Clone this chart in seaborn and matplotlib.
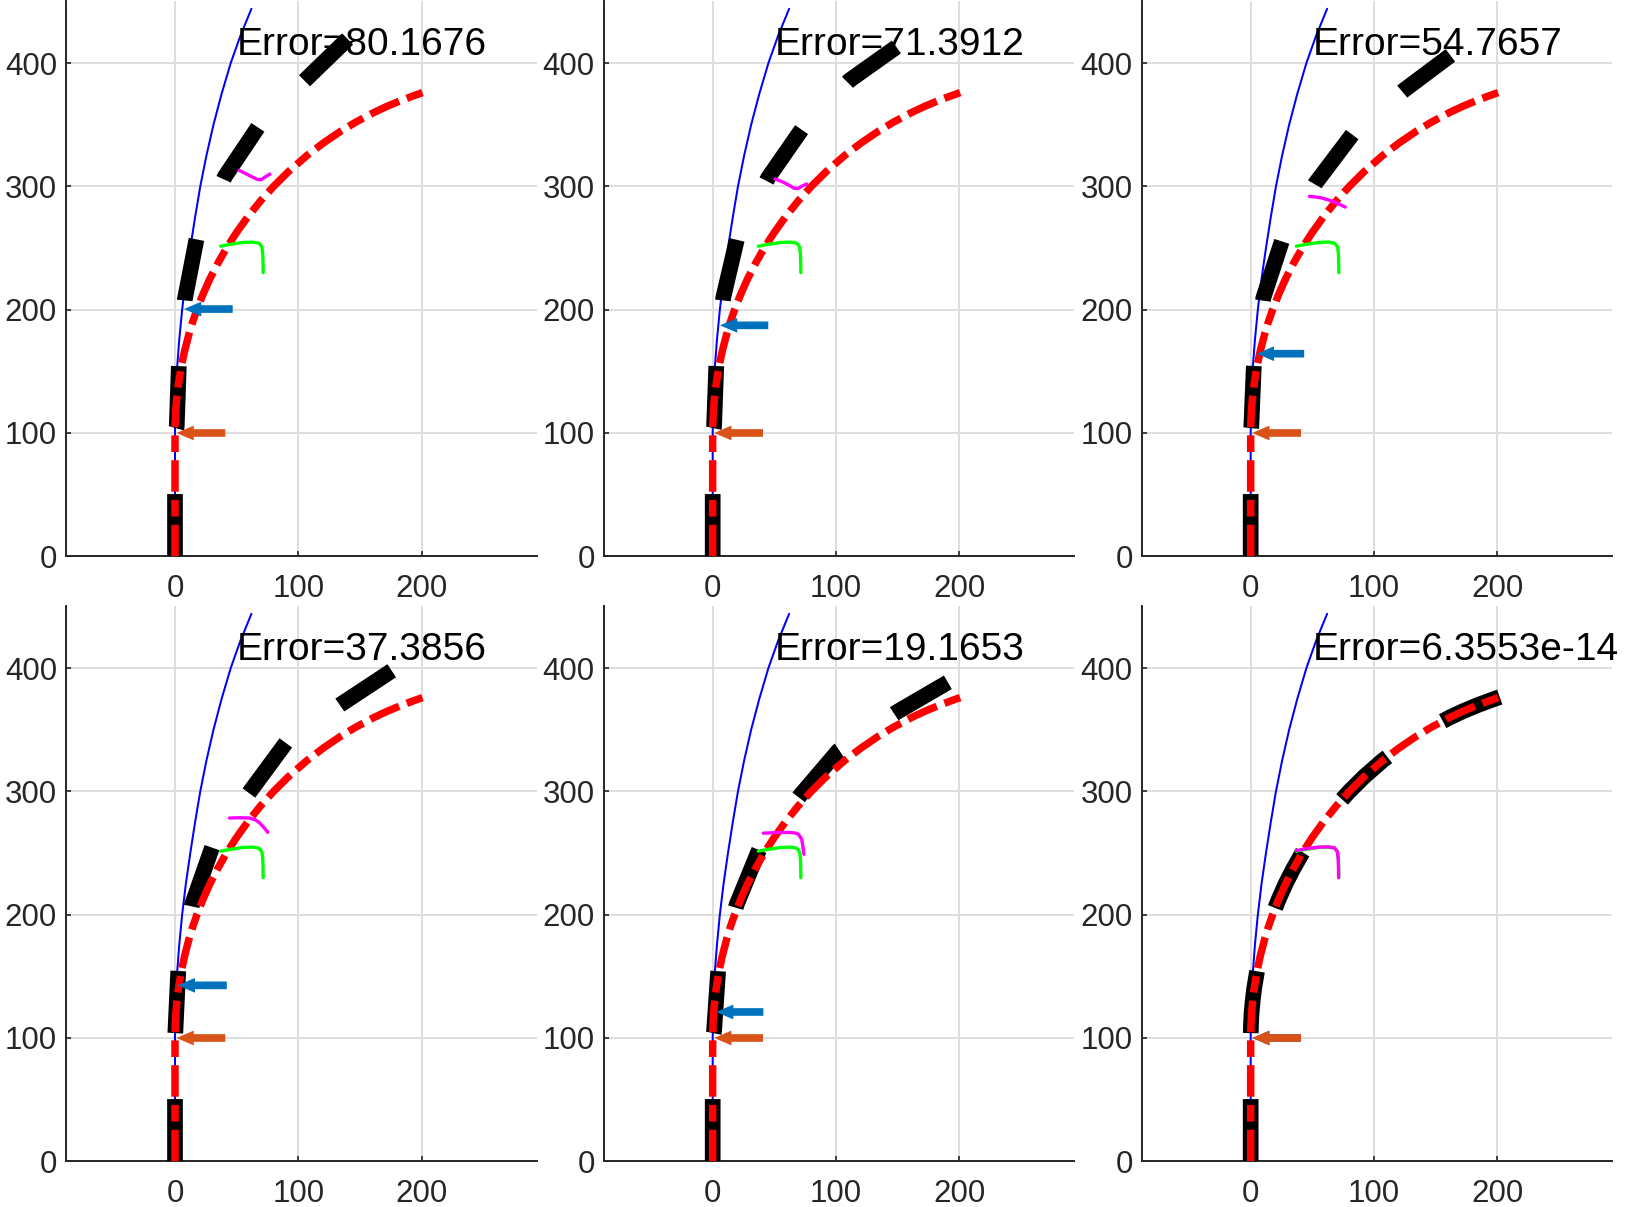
import matplotlib
matplotlib.use('Agg')
import matplotlib.pyplot as plt
import seaborn as sns

# target path (red dash-dot)
red_x = [0, 0, 0.2, 0.7, 1.6, 2.8, 5.3, 7.9, 11.3, 14.3, 17.8, 22.5, 28.3, 34.4,
         41.8, 49.5, 58.8, 69.2, 80, 92.1, 107, 120.1, 134.8, 146.5, 161.5,
         172.2, 184.2, 193.6, 202]
red_y = [0, 100, 110, 120, 130, 140, 155, 167, 180, 190, 200, 212, 225, 237,
         250, 262, 275, 288, 300, 312, 325, 335, 345, 352, 360,
         365, 370, 373.5, 376.5]

# reference path (thin blue)
blue_x = [0, 0, 0.4, 1.5, 3.4, 5.8, 8.8, 12.4, 16.3, 20.5, 25.5, 31.2, 37.8,
          45.2, 53, 62]
blue_y = [0, 100, 125, 150, 175, 200, 225, 250, 275, 300, 325, 350, 375,
          400, 422, 444]

# target feature (green hook)
green_x = [37, 45, 55, 63, 68, 70.5, 71.2, 71.4, 71.5]
green_y = [251.5, 253, 254.5, 254.8, 254, 251, 245, 238, 230]

errors = ['Error=80.1676', 'Error=71.3912', 'Error=54.7657',
          'Error=37.3856', 'Error=19.1653', 'Error=6.3553e-14']

# estimated path per iteration (black dashed)
est_x = [
    [0, 0, 1.4, 3.2, 8, 17.6, 40.5, 68, 105.4, 140],
    [0, 0, 1.1, 3, 8.6, 20, 45, 73.5, 111, 149],
    [0, 0, 0.5, 2.6, 10.3, 25.5, 52.3, 82.9, 124.1, 162],
    [0, 0, 0.3, 2.7, 13.8, 30.6, 59.9, 90.2, 134.1, 177],
    [0, 0, 1.1, 4.6, 19.5, 38.4, 70.8, 101.9, 149.2, 191],
    red_x,
]
est_y = [
    [0, 100, 105, 157, 208.5, 258, 308, 349, 386, 419.5],
    [0, 100, 105, 157, 210, 258.5, 307, 348, 386, 413],
    [0, 100, 105, 155.7, 209.7, 256.2, 302.2, 342.7, 377.8, 406.2],
    [0, 100, 105, 156, 208.1, 256, 298.6, 339.7, 370.3, 398.6],
    [0, 100, 105.4, 156.9, 208.4, 254.5, 296.5, 333, 364.2, 388.6],
    red_y,
]

# estimated feature per iteration (magenta)
mag_x = [
    [52, 58, 63, 67, 70, 73, 77],
    [50.5, 57, 62.7, 66, 69.5, 73, 76.2],
    [47.7, 56, 64.5, 71, 76.7],
    [44.2, 52, 60.4, 65, 68, 71.3, 75.3],
    [41.1, 52, 62.7, 67, 69.5, 72.2, 73.2, 74],
    [37, 45, 55, 63, 68, 70.3, 71, 71.2, 71.3],
]
mag_y = [
    [313, 310, 307.5, 305.5, 305.5, 307.5, 310],
    [306, 303.5, 300.5, 298.5, 298.4, 300.5, 301.9],
    [291.9, 291, 288.6, 286, 283.2],
    [278.4, 278.6, 278.4, 277, 275, 271.6, 266.8],
    [266.1, 266.6, 266.7, 266.2, 265.3, 261.2, 255, 249],
    [252, 253.5, 254.8, 255, 254.2, 251, 245, 238, 230],
]

# arrows (tail x, tip x, y)
cur_tail = [46.8, 45.1, 43.4, 42.0, 41.1, 40.8]
cur_tip = [7.3, 5.9, 4.9, 2.2, 2.7, 1.2]
cur_y = [200.5, 187.3, 164.3, 142.7, 121.1, 100.0]
ref_tail, ref_tip, ref_y = 40.8, 1.2, 100.0

sns.set_theme(style='white')
plt.rcParams['font.family'] = ['Liberation Sans', 'DejaVu Sans']
plt.rcParams['lines.scale_dashes'] = False

fig = plt.figure(figsize=(16.25, 12.07), dpi=100)
lefts = [0.04062, 0.37151, 0.70258]
bottoms = [0.53911, 0.03786]
w, h = 0.28960, 0.45973

red_ls = (0, (22.7, 5.9, 12.0, 5.9))
black_ls = (0, (44.8, 47.5))
dark = '#262626'

for i in range(6):
    ax = fig.add_axes([lefts[i % 3], bottoms[i // 3], w, h])
    sns.lineplot(x=blue_x, y=blue_y, ax=ax, sort=False, estimator=None,
                 color='#0000ff', linewidth=1.45, zorder=2)
    sns.lineplot(x=est_x[i], y=est_y[i], ax=ax, sort=False, estimator=None,
                 color='black', linewidth=11.3, linestyle=black_ls, zorder=3)
    sns.lineplot(x=red_x, y=red_y, ax=ax, sort=False, estimator=None,
                 color='#ff0000', linewidth=5.4, linestyle=red_ls, zorder=4)
    sns.lineplot(x=green_x, y=green_y, ax=ax, sort=False, estimator=None,
                 color='#00ff00', linewidth=2.4, zorder=5)
    sns.lineplot(x=mag_x[i], y=mag_y[i], ax=ax, sort=False, estimator=None,
                 color='#ff00ff', linewidth=2.4, zorder=6)
    ax.arrow(cur_tail[i], cur_y[i], cur_tip[i] - cur_tail[i], 0, width=6.2,
             head_width=12, head_length=14, length_includes_head=True,
             color='#0072bd', lw=0, zorder=7)
    ax.arrow(ref_tail, ref_y, ref_tip - ref_tail, 0, width=6.2,
             head_width=12, head_length=14, length_includes_head=True,
             color='#d95319', lw=0, zorder=8)
    ax.text(50, 406.5, errors[i], fontsize=28, ha='left', va='baseline',
            color='black', clip_on=False, zorder=9)

    ax.set_xlim(-88.4, 293.3)
    ax.set_ylim(0, 450)
    ax.set_xticks([0, 100, 200])
    ax.set_yticks([0, 100, 200, 300, 400])
    ax.set_xlabel('')
    ax.set_ylabel('')
    ax.grid(True, color='#dedede', linewidth=1.4)
    ax.set_axisbelow(True)
    for s in ['top', 'right']:
        ax.spines[s].set_visible(False)
    for s in ['left', 'bottom']:
        ax.spines[s].set_color(dark)
        ax.spines[s].set_linewidth(1.4)
    ax.tick_params(axis='both', direction='in', length=3.6, width=1.2,
                   colors=dark, labelsize=22.5, left=True, bottom=True)
    ax.tick_params(axis='x', pad=12.5)
    ax.tick_params(axis='y', pad=6.5)

fig.savefig('out.png', dpi=100)
